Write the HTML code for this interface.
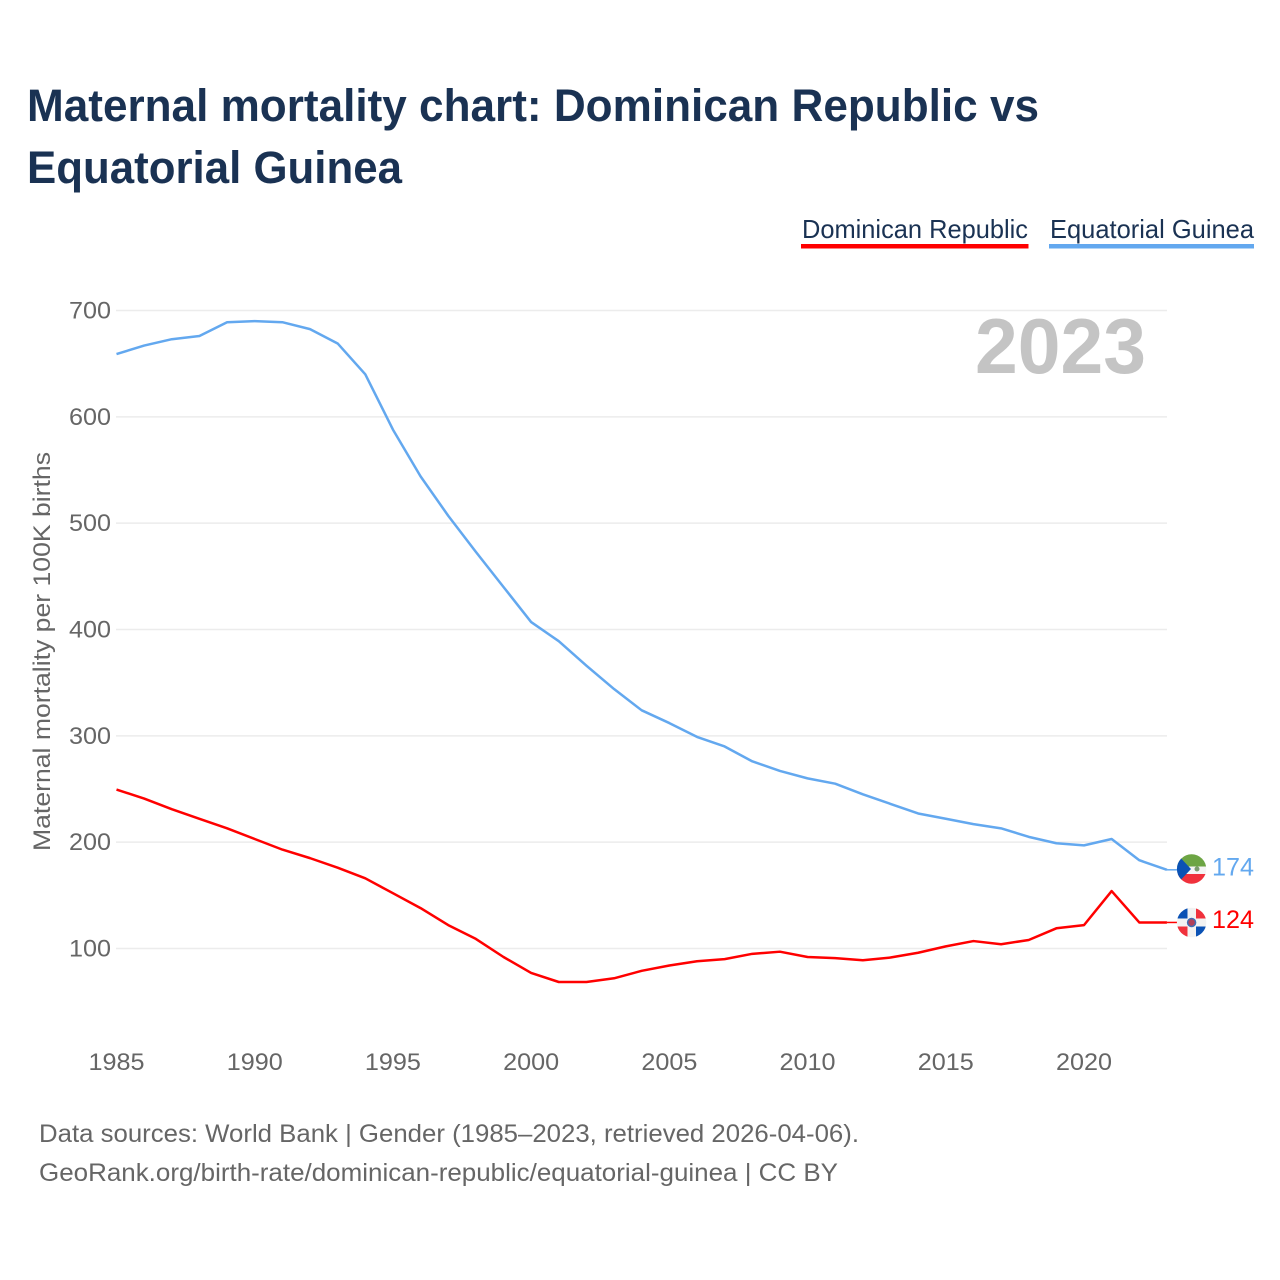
<!DOCTYPE html>
<html>
<head>
<meta charset="utf-8">
<title>Maternal mortality chart</title>
<style>
html,body{margin:0;padding:0;background:#fff;width:1280px;height:1280px;overflow:hidden}
svg{display:block}
text{font-family:"Liberation Sans",sans-serif}
.tick{font-size:24px;fill:#666}
.foot{font-size:25px;fill:#666}
</style>
</head>
<body>
<svg id="chart" width="1280" height="1280" viewBox="0 0 1280 1280" xmlns="http://www.w3.org/2000/svg">
  <defs>
    <clipPath id="flag-clip-gq"><circle cx="1191.6" cy="869" r="14.7"/></clipPath>
    <clipPath id="flag-clip-do"><circle cx="1191.6" cy="922.5" r="14.7"/></clipPath>
  </defs>
  <rect width="1280" height="1280" fill="#fff"/>
  <text x="27" y="121" font-size="45" font-weight="700" fill="#1a3253" textLength="1012" lengthAdjust="spacingAndGlyphs">Maternal mortality chart: Dominican Republic vs</text>
  <text x="27" y="183" font-size="45" font-weight="700" fill="#1a3253" textLength="375" lengthAdjust="spacingAndGlyphs">Equatorial Guinea</text>

  <g>
    <text x="802" y="238" font-size="26" fill="#1a3253" textLength="226" lengthAdjust="spacingAndGlyphs">Dominican Republic</text>
    <rect x="801" y="244" width="227.500" height="4.500" fill="#ff0000"/>
  </g>
  <g>
    <text x="1050" y="238" font-size="26" fill="#1a3253" textLength="204" lengthAdjust="spacingAndGlyphs">Equatorial Guinea</text>
    <rect x="1049" y="244" width="205" height="4.500" fill="#63a8ef"/>
  </g>

  <g id="grid"></g>
  <g id="yticks"></g>
  <g id="xticks"></g>
  <text x="975" y="373" font-size="78" font-weight="700" fill="#c4c4c4" textLength="171" lengthAdjust="spacingAndGlyphs">2023</text>
  <text transform="translate(50,851) rotate(-90)" font-size="24" fill="#666" textLength="399" lengthAdjust="spacingAndGlyphs">Maternal mortality per 100K births</text>
  <g id="series"></g>

  <g clip-path="url(#flag-clip-gq)">
    <rect x="1176" y="854" width="32" height="31" fill="#f5f5f5"/>
    <rect x="1176" y="854" width="32" height="12.500" fill="#6da544"/>
    <rect x="1176" y="874" width="32" height="11" fill="#f0313c"/>
    <polygon points="1176,853 1191,869 1176,885" fill="#0b52b5"/>
    <circle cx="1197" cy="869" r="2.500" fill="#7c9c70"/>
  </g>
  <g clip-path="url(#flag-clip-do)">
    <rect x="1176" y="907" width="32" height="31" fill="#f2f2f2"/>
    <rect x="1176" y="907" width="11.500" height="11.500" fill="#0b52b5"/>
    <rect x="1196" y="907" width="12" height="11.500" fill="#f0313c"/>
    <rect x="1176" y="926.500" width="11.500" height="12" fill="#f0313c"/>
    <rect x="1196" y="926.500" width="12" height="12" fill="#0b52b5"/>
    <circle cx="1191.600" cy="922.500" r="4" fill="#b0405a" stroke="#3f6fb5" stroke-width="1.500"/>
  </g>
  <g id="endlabels"></g>

  <text class="foot" x="39" y="1142" textLength="820" lengthAdjust="spacingAndGlyphs">Data sources: World Bank | Gender (1985–2023, retrieved 2026-04-06).</text>
  <text class="foot" x="39" y="1181" textLength="799" lengthAdjust="spacingAndGlyphs">GeoRank.org/birth-rate/dominican-republic/equatorial-guinea | CC BY</text>
</svg>
<script>
const years = [1985,1986,1987,1988,1989,1990,1991,1992,1993,1994,1995,1996,1997,1998,1999,2000,2001,2002,2003,2004,2005,2006,2007,2008,2009,2010,2011,2012,2013,2014,2015,2016,2017,2018,2019,2020,2021,2022,2023];
const dominicanRepublic = [249.5,241,231,222,213,203,193,185,176,166,152,138,122,109,92,77,68.5,68.5,72,79,84,88,90,95,97,92,91,89,91.5,96,102,107,104,108,119,122,154,124.5,124.5];
const equatorialGuinea = [659,667,673,676,689,690,689,682.5,669,640,588,544,507,473,440,407,389,366,344,324,312,299,290,276,267,260,255,245,236,227,222,217,213,205,199,197,203,183,174];
const yTickValues = [100,200,300,400,500,600,700];
const xTickValues = [1985,1990,1995,2000,2005,2010,2015,2020];
const endValueLabels = [124,174];
const seriesColors = ['#ff0000','#63a8ef'];

const NS = 'http://www.w3.org/2000/svg';
function xScale(year){ return 116.5 + (year - 1985) * (1084 - 116.5) / 35; }
function yScale(value){ return 948.5 - (value - 100) * (948.5 - 310.5) / 600; }
function make(tag, parent){
  const el = document.createElementNS(NS, tag);
  parent.appendChild(el);
  return el;
}

const grid = document.getElementById('grid');
const yticks = document.getElementById('yticks');
yTickValues.forEach(function(v){
  const line = make('line', grid);
  
  
  line.setAttribute('x1', 116);
  line.setAttribute('x2', 1167);
  line.setAttribute('y1', yScale(v));
  line.setAttribute('y2', yScale(v));
  line.setAttribute('stroke', '#ececec');
  line.setAttribute('stroke-width', '1.5');
  const label = make('text', yticks);
  
  
  label.setAttribute('class', 'tick');
  label.setAttribute('x', 111);
  label.setAttribute('y', yScale(v) + 8);
  label.setAttribute('text-anchor', 'end');
  label.setAttribute('textLength', '42');
  label.setAttribute('lengthAdjust', 'spacingAndGlyphs');
  label.textContent = v;
});

const xticks = document.getElementById('xticks');
xTickValues.forEach(function(y){
  const label = make('text', xticks);
  
  
  label.setAttribute('class', 'tick');
  label.setAttribute('x', xScale(y) - 28);
  label.setAttribute('y', 1070);
  label.setAttribute('textLength', '56');
  label.setAttribute('lengthAdjust', 'spacingAndGlyphs');
  label.textContent = y;
});

const seriesGroup = document.getElementById('series');
const endLabels = document.getElementById('endlabels');
function drawSeries(values, color, name, endValue){
  const last = values[values.length - 1];
  const pts = values.map(function(v, i){ return xScale(years[i]).toFixed(2) + ',' + yScale(v).toFixed(2); });
  const path = make('polyline', seriesGroup);
  
  
  path.setAttribute('points', pts.join(' '));
  path.setAttribute('fill', 'none');
  path.setAttribute('stroke', color);
  path.setAttribute('stroke-width', '2.5');
  path.setAttribute('stroke-linejoin', 'round');
  const lead = make('line', seriesGroup);
  
  
  lead.setAttribute('x1', xScale(years[years.length - 1]));
  lead.setAttribute('x2', 1177);
  lead.setAttribute('y1', yScale(last));
  lead.setAttribute('y2', yScale(last));
  lead.setAttribute('stroke', color);
  lead.setAttribute('stroke-width', '1.5');
  const label = make('text', endLabels);
  
  
  label.setAttribute('x', 1212);
  label.setAttribute('y', yScale(last) + 5.5);
  label.setAttribute('font-size', '25');
  label.setAttribute('fill', color);
  label.setAttribute('textLength', '42');
  label.setAttribute('lengthAdjust', 'spacingAndGlyphs');
  label.textContent = endValue;
}
drawSeries(equatorialGuinea, seriesColors[1], 'equatorial-guinea', endValueLabels[1]);
drawSeries(dominicanRepublic, seriesColors[0], 'dominican-republic', endValueLabels[0]);
</script>
</body>
</html>
